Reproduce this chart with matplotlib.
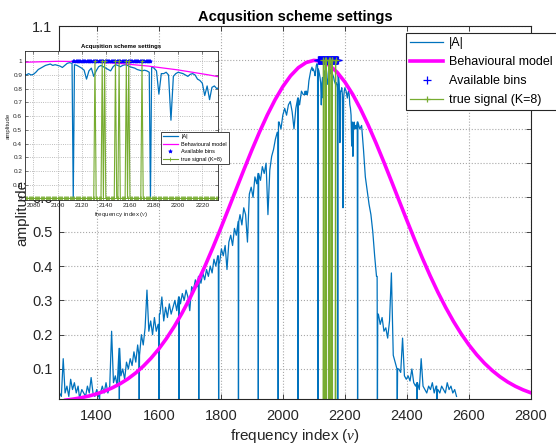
import numpy as np
import matplotlib
matplotlib.use('Agg')
import matplotlib.pyplot as plt

plt.rcParams['font.family'] = ['Liberation Sans', 'DejaVu Sans']
plt.rcParams['mathtext.fontset'] = 'custom'
plt.rcParams['mathtext.rm'] = 'Liberation Sans'
plt.rcParams['mathtext.it'] = 'Liberation Serif:italic'

# ---------------- data ----------------
# |A| spectrum, low part (1280..2066 step 6)
a_low_freq = np.arange(1280, 2067, 6)
a_low = [0.03, 0.02, 0.13, 0.03, 0.05, 0.02, 0.07, 0.04, 0.06, 0.03,
         0.05, 0.02, 0.04, 0.03, 0.02, 0.05, 0.03, 0.075, 0.03, 0.02,
         0.04, 0.02, 0.03, 0.05, 0.03, 0.06, 0.03, 0.05, 0.21, 0.06,
         0.08, 0.05, 0.16, 0.08, 0.10, 0.07, 0.12, 0.10, 0.13, 0.11,
         0.15, 0.12, 0.17, 0.14, 0.20, 0.17, 0.22, 0.33, 0.21, 0.24,
         0.20, 0.25, 0.21, 0.23, 0.26, 0.31, 0.24, 0.28, 0.25, 0.29,
         0.26, 0.28, 0.30, 0.27, 0.31, 0.29, 0.32, 0.30, 0.33, 0.31,
         0.27, 0.34, 0.33, 0.36, 0.34, 0.37, 0.35, 0.38, 0.36, 0.39,
         0.37, 0.40, 0.38, 0.42, 0.40, 0.43, 0.41, 0.45, 0.43, 0.46,
         0.39, 0.47, 0.49, 0.46, 0.51, 0.49, 0.53, 0.55, 0.52, 0.57,
         0.55, 0.47, 0.61, 0.63, 0.60, 0.66, 0.64, 0.67, 0.65, 0.69,
         0.67, 0.70, 0.55, 0.68, 0.72, 0.74, 0.77, 0.79, 0.82, 0.80,
         0.84, 0.86, 0.84, 0.87, 0.88, 0.85, 0.80, 0.86, 0.89, 0.87,
         0.91, 0.90]
# |A| spectrum, middle part (2070..2236 step 2)
a_mid_freq = np.arange(2070, 2237, 2)
a_mid = [0.90, 0.91, 0.90, 0.91, 0.90, 0.905, 0.92, 0.94, 0.95, 0.96,
         0.97, 0.975, 0.98, 0.97, 0.975, 0.97, 0.965, 0.955, 0.97, 0.985,
         0.99, 0.985, 0.975, 0.97, 0.96, 0.95, 0.935, 0.87, 0.93, 0.95,
         0.89, 0.93, 0.96, 0.97, 0.96, 0.95, 0.94, 0.93, 0.96, 0.975,
         0.97, 0.96, 0.97, 0.975, 0.97, 0.96, 0.955, 0.95, 0.94, 0.935,
         0.93, 0.935, 0.93, 0.92, 0.96, 0.95, 0.93, 0.76, 0.91, 0.91,
         0.92, 0.90, 0.57, 0.89, 0.91, 0.92, 0.915, 0.91, 0.90, 0.89,
         0.905, 0.91, 0.90, 0.87, 0.86, 0.84, 0.75, 0.82, 0.72, 0.81,
         0.82, 0.80, 0.81, 0.80]
# |A| spectrum, high part (2242..2560 step 6)
a_high_freq = np.arange(2242, 2561, 6)
a_high = [0.82, 0.80, 0.81, 0.74, 0.66, 0.62, 0.58, 0.55, 0.50, 0.43,
          0.37, 0.26, 0.23, 0.25, 0.21, 0.22, 0.19, 0.24, 0.38, 0.14,
          0.12, 0.10, 0.10, 0.09, 0.19, 0.08, 0.07, 0.08, 0.065, 0.10,
          0.06, 0.05, 0.06, 0.04, 0.13, 0.05, 0.04, 0.03, 0.05, 0.04,
          0.06, 0.03, 0.05, 0.04, 0.03, 0.05, 0.04, 0.03, 0.06, 0.04,
          0.05, 0.03, 0.04, 0.02]
# bins where |A| is zero
zero_bins = [1345, 1409, 1473, 1537, 1601, 1665, 1729, 1793, 1857, 1921,
             1985, 2049, 2113, 2177, 2241, 2305, 2369, 2433, 2497]

# behavioural model
model_freq = np.arange(1300, 2801, 25)
model_amp = [0.0092, 0.0123, 0.0162, 0.0212, 0.0275, 0.0353, 0.0450, 0.0567, 0.0709, 0.0879,
             0.1079, 0.1313, 0.1582, 0.1891, 0.2239, 0.2628, 0.3055, 0.3521, 0.4021, 0.4551,
             0.5105, 0.5674, 0.6250, 0.6822, 0.7380, 0.7912, 0.8406, 0.8850, 0.9234, 0.9548,
             0.9784, 0.9935, 0.9998, 0.9971, 0.9855, 0.9652, 0.9368, 0.9011, 0.8590, 0.8115,
             0.7597, 0.7048, 0.6480, 0.5904, 0.5331, 0.4770, 0.4230, 0.3717, 0.3237, 0.2794,
             0.2390, 0.2025, 0.1701, 0.1416, 0.1168, 0.0955, 0.0774, 0.0621, 0.0494, 0.0390,
             0.0304]

# available bins and true signal
avail_bins = np.arange(2113, 2178)
avail_level = 1.0
true_bins = [2131, 2137, 2139, 2148, 2151, 2157, 2159, 2170]
true_level = 1.0

# ---------------- assemble |A| ----------------
f_all = np.concatenate([a_low_freq, a_mid_freq, a_high_freq]).astype(float)
a_all = np.concatenate([a_low, a_mid, a_high]).astype(float)
ext_f, ext_a = list(f_all), list(a_all)
for z in zero_bins:
    for p in (z - 1, z + 1):
        if p not in ext_f:
            ext_f.append(p)
            ext_a.append(a_all[np.argmin(np.abs(f_all - p))])
    ext_f.append(z)
    ext_a.append(0.0)
order = np.argsort(ext_f, kind='stable')
f_all = np.array(ext_f)[order]
a_all = np.array(ext_a)[order]

def true_signal(freqs):
    return freqs, np.where(np.isin(freqs, true_bins), true_level, 0.0)

BLUE = '#0072BD'
MAG = '#FF00FF'
GREEN = '#77AC30'
AXC = '#262626'

fig = plt.figure(figsize=(5.56, 4.46), dpi=100)

# ---------------- main axes ----------------
ax = fig.add_axes([0.1070, 0.1054, 0.848, 0.8363])
ax.plot(f_all, a_all, color=BLUE, lw=0.9, label='|A|')
ax.plot(model_freq, model_amp, color=MAG, lw=2.6, label='Behavioural model')
ax.plot(avail_bins, np.full(len(avail_bins), avail_level), ls='none', marker='+',
        color='b', ms=6, mew=0.9, label='Available bins')
sf, sv = true_signal(avail_bins)
ax.plot(sf, sv, color=GREEN, lw=0.9, marker='+', ms=5, mew=0.9,
        label='true signal (K=8)')
ax.set_xlim(1280, 2800)
ax.set_ylim(0.0125, 1.1)
ax.set_xticks([1400, 1600, 1800, 2000, 2200, 2400, 2600, 2800])
ax.set_yticks([0.1, 0.2, 0.3, 0.4, 0.5, 0.6, 0.7, 0.8, 0.9, 1.0, 1.1])
ax.set_yticklabels(['0.1', '0.2', '0.3', '0.4', '0.5', '0.6', '0.7', '0.8', '0.9', '1', '1.1'])
ax.tick_params(direction='in', top=True, right=True, labelsize=10.5, length=3.5,
               width=0.6, colors=AXC)
ax.tick_params(axis='x', pad=7)
ax.tick_params(axis='y', pad=5)
for s in ax.spines.values():
    s.set_linewidth(0.8)
    s.set_color(AXC)
ax.grid(True, ls=':', color='#a8a8a8', lw=0.8)
ax.set_axisbelow(True)
ax.set_xlabel(r'frequency index ($\nu$)', fontsize=11, color=AXC, labelpad=3)
ax.set_ylabel('amplitude', fontsize=11, color=AXC, labelpad=2)
fig.text(0.5306, 0.963, 'Acqusition scheme settings', ha='center', va='center',
         fontsize=10.5, fontweight='bold', color='black')
leg = ax.legend(loc='upper left', bbox_to_anchor=(406 / 556, (446 - 33) / 446),
                bbox_transform=fig.transFigure, fontsize=9, frameon=True,
                fancybox=False, framealpha=1, edgecolor=AXC, borderaxespad=0,
                handlelength=2.6, labelspacing=0.55, borderpad=0.35, handletextpad=0.5)
leg.get_frame().set_linewidth(0.8)
leg.set_zorder(20)

# ---------------- inset ----------------
ax2 = fig.add_axes([25 / 556, (446 - 200) / 446, 193 / 556, 149 / 446])
ax2.set_zorder(10)
ax2.set_facecolor('white')
ax2.plot(f_all, a_all, color=BLUE, lw=0.9, label='|A|')
ax2.plot(model_freq, model_amp, color=MAG, lw=0.9, label='Behavioural model')
ax2.plot(avail_bins, np.full(len(avail_bins), avail_level), ls='none', marker='*',
         color='b', ms=2.8, mew=0.5, label='Available bins')
sf2, sv2 = true_signal(np.arange(2064, 2242))
ax2.plot(sf2, sv2, color=GREEN, lw=0.8, marker='+', ms=3, mew=0.6,
         label='true signal (K=8)')
ax2.set_xlim(2073, 2233)
ax2.set_ylim(-0.012, 1.075)
ax2.set_xticks(np.arange(2080, 2221, 20))
ax2.set_yticks([0, 0.1, 0.2, 0.3, 0.4, 0.5, 0.6, 0.7, 0.8, 0.9, 1.0])
ax2.set_yticklabels(['0', '0.1', '0.2', '0.3', '0.4', '0.5', '0.6', '0.7', '0.8', '0.9', '1'])
ax2.tick_params(direction='in', top=True, right=True, labelsize=4.6, length=2,
                width=0.4, colors=AXC, pad=2)
for s in ax2.spines.values():
    s.set_linewidth(0.6)
    s.set_color(AXC)
ax2.grid(True, ls=':', color='#a8a8a8', lw=0.6)
ax2.set_axisbelow(True)
ax2.set_title('Acqusition scheme settings', fontsize=4.3, fontweight='bold', pad=2.5)
ax2.set_xlabel(r'frequency index ($\nu$)', fontsize=4.5, color=AXC, labelpad=1.5)
ax2.set_ylabel('amplitude', fontsize=4.3, color=AXC, labelpad=1.5)
leg2 = ax2.legend(loc='upper left', bbox_to_anchor=(161 / 556, (446 - 132) / 446),
                  bbox_transform=fig.transFigure, fontsize=4.0, frameon=True,
                  fancybox=False, framealpha=1, edgecolor=AXC, borderaxespad=0,
                  handlelength=2.6, labelspacing=0.45, borderpad=0.4, handletextpad=0.6)
leg2.get_frame().set_linewidth(0.6)

fig.savefig('out.png', dpi=100)
